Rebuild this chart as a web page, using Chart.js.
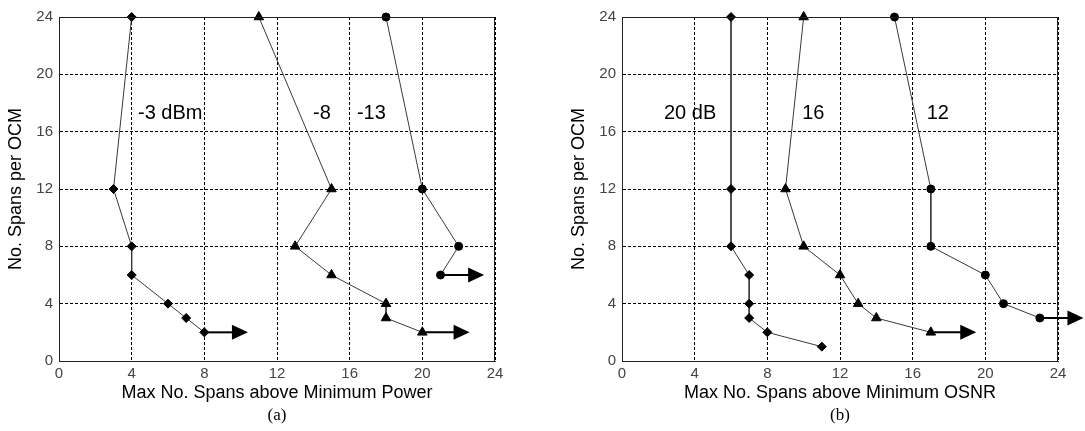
<!DOCTYPE html>
<html>
<head>
<meta charset="utf-8">
<script src="https://cdn.jsdelivr.net/npm/chart.js@4/dist/chart.umd.min.js"></script>
<style>
    html, body { margin: 0; padding: 0; background: #fff; }
    #wrap { position: relative; width: 1085px; height: 431px; overflow: hidden; }
    .panel { position: absolute; top: 0; height: 431px; }
    .cap { position: absolute; top: 405px; width: 60px; text-align: center;
           font: 17px 'Liberation Serif', 'Times New Roman', serif; color: #000; }
</style>
</head>
<body>
<div id="wrap">
    <div class="panel" style="left:0;width:540px"><canvas id="chartA" width="540" height="431"></canvas></div>
    <div class="panel" style="left:540px;width:545px"><canvas id="chartB" width="545" height="431"></canvas></div>
    <div class="cap" style="left:247px">(a)</div>
    <div class="cap" style="left:810px">(b)</div>
</div>
<script>
// 軸目盛り
const xTicks = [0, 4, 8, 12, 16, 20, 24];
const yTicks = [0, 4, 8, 12, 16, 20, 24];

// (a) Minimum Power
const powM3X = [4, 3, 4, 4, 6, 7, 8];
const powM3Y = [24, 12, 8, 6, 4, 3, 2];
const powM8X = [11, 15, 13, 15, 18, 18, 20];
const powM8Y = [24, 12, 8, 6, 4, 3, 2];
const powM13X = [18, 20, 22, 21];
const powM13Y = [24, 12, 8, 6];
const powArrows = [[8, 10.4, 2], [20, 22.6, 2], [21, 23.4, 6]];   // [from, tip, y]
const powLabels = ['-3 dBm', '-8', '-13'];
const powLabelX = [4.35, 13.98, 16.4];

// (b) Minimum OSNR
const osnr20X = [6, 6, 6, 7, 7, 7, 8, 11];
const osnr20Y = [24, 12, 8, 6, 4, 3, 2, 1];
const osnr16X = [10, 9, 10, 12, 13, 14, 17];
const osnr16Y = [24, 12, 8, 6, 4, 3, 2];
const osnr12X = [15, 17, 17, 20, 21, 23];
const osnr12Y = [24, 12, 8, 6, 4, 3];
const osnrArrows = [[17, 19.5, 2], [23, 25.4, 3]];
const osnrLabels = ['20 dB', '16', '12'];
const osnrLabelX = [2.31, 9.92, 16.77];

const labelY = 17.3;

function toPoints(xs, ys) {
    return xs.map((x, i) => ({ x: x, y: ys[i] }));
}

function series(xs, ys, style, radius) {
    return {
        data: toPoints(xs, ys),
        showLine: true,
        clip: false,
        borderColor: '#3a3a3a',
        borderWidth: 1,
        pointStyle: style,
        pointRadius: radius,
        pointHoverRadius: radius,
        pointBackgroundColor: '#000',
        pointBorderColor: '#000',
        pointBorderWidth: 1
    };
}

// 枠・矢印・ラベルを描くプラグイン
const decorPlugin = {
    id: 'decor',
    afterDatasetsDraw(chart, args, opts) {
        const { ctx, chartArea: a, scales: { x, y } } = chart;
        ctx.save();
        ctx.strokeStyle = '#222';
        ctx.lineWidth = 1;
        ctx.strokeRect(a.left + 0.5, a.top + 0.5, a.right - a.left - 1, a.bottom - a.top);

        // 矢印
        opts.arrows.forEach(([from, tip, yv]) => {
            const x0 = x.getPixelForValue(from);
            const x1 = x.getPixelForValue(tip);
            const py = y.getPixelForValue(yv);
            ctx.strokeStyle = '#000';
            ctx.lineWidth = 2;
            ctx.beginPath();
            ctx.moveTo(x0, py);
            ctx.lineTo(x1 - 14, py);
            ctx.stroke();
            ctx.fillStyle = '#000';
            ctx.beginPath();
            ctx.moveTo(x1, py);
            ctx.lineTo(x1 - 16, py - 7.5);
            ctx.lineTo(x1 - 16, py + 7.5);
            ctx.closePath();
            ctx.fill();
        });

        // 系列ラベル
        ctx.fillStyle = '#000';
        ctx.font = '20px "Liberation Sans", Arial, sans-serif';
        ctx.textAlign = 'left';
        ctx.textBaseline = 'middle';
        opts.labels.forEach((t, i) => {
            ctx.fillText(t, x.getPixelForValue(opts.labelX[i]), y.getPixelForValue(labelY));
        });
        ctx.restore();
    }
};

function makeChart(id, datasets, xTitle, padLeft, padRight, arrows, labels, labelX) {
    const tickFont = { family: '"Liberation Sans", Arial, sans-serif', size: 15 };
    const titleFont = { family: '"Liberation Sans", Arial, sans-serif', size: 18 };
    return new Chart(document.getElementById(id), {
        type: 'line',
        data: { datasets: datasets },
        options: {
            responsive: false,
            animation: false,
            layout: { padding: { left: padLeft, right: padRight, top: 17, bottom: 25 } },
            plugins: {
                legend: { display: false },
                tooltip: { enabled: false },
                decor: { arrows: arrows, labels: labels, labelX: labelX }
            },
            scales: {
                x: {
                    type: 'linear',
                    min: 0,
                    max: 24,
                    afterBuildTicks: s => { s.ticks = xTicks.map(v => ({ value: v })); },
                    afterFit: s => { s.height = 45; },
                    grid: { color: '#000', lineWidth: 1, drawTicks: false },
                    border: { display: true, color: '#222', dash: [3, 2] },
                    ticks: { color: '#444', font: tickFont, padding: 4, maxRotation: 0 },
                    title: { display: true, text: xTitle, color: '#000', font: titleFont, padding: { top: 0, bottom: 2 } }
                },
                y: {
                    type: 'linear',
                    min: 0,
                    max: 24,
                    afterBuildTicks: s => { s.ticks = yTicks.map(v => ({ value: v })); },
                    afterFit: s => { s.width = 59; },
                    grid: { color: '#000', lineWidth: 1, drawTicks: false },
                    border: { display: true, color: '#222', dash: [3, 2] },
                    ticks: { color: '#444', font: tickFont, padding: 6 },
                    title: { display: true, text: 'No. Spans per OCM', color: '#000', font: titleFont, padding: { top: 5, bottom: 0 } }
                }
            }
        },
        plugins: [decorPlugin]
    });
}

makeChart('chartA', [
    series(powM3X, powM3Y, 'rectRot', 4.5),
    series(powM8X, powM8Y, 'triangle', 5.5),
    series(powM13X, powM13Y, 'circle', 4)
], 'Max No. Spans above Minimum Power', 0, 45, powArrows, powLabels, powLabelX);

makeChart('chartB', [
    series(osnr20X, osnr20Y, 'rectRot', 4.5),
    series(osnr16X, osnr16Y, 'triangle', 5.5),
    series(osnr12X, osnr12Y, 'circle', 4)
], 'Max No. Spans above Minimum OSNR', 23, 27, osnrArrows, osnrLabels, osnrLabelX);
</script>
</body>
</html>
